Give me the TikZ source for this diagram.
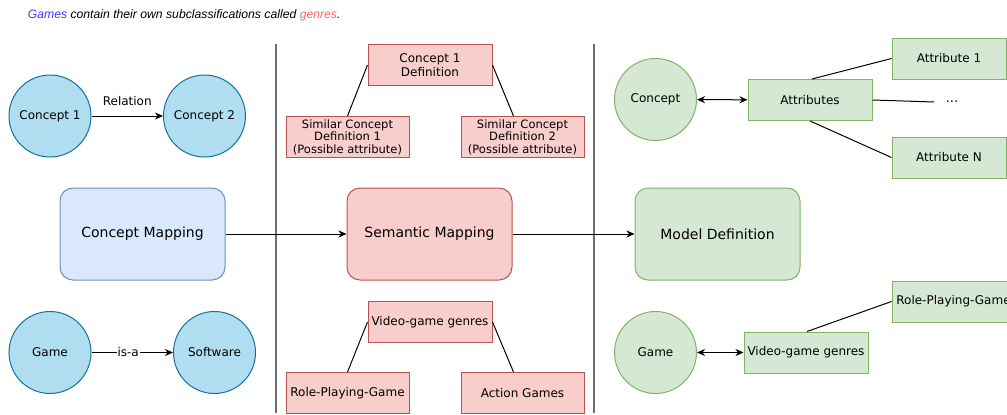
\documentclass[tikz,border=0pt]{standalone}
\usepackage{fontspec}
\setmainfont{DejaVu Sans}
\newfontfamily\notefont{Liberation Sans}
\usetikzlibrary{arrows.meta, positioning}
\definecolor{cblue}{HTML}{B1DDF0}
\definecolor{cbluedraw}{HTML}{10739E}
\definecolor{mblue}{HTML}{DAE8FC}
\definecolor{mbluedraw}{HTML}{6C8EBF}
\definecolor{mred}{HTML}{F8CECC}
\definecolor{mreddraw}{HTML}{B85450}
\definecolor{mgreen}{HTML}{D5E8D4}
\definecolor{mgreendraw}{HTML}{82B366}
\definecolor{sepgray}{HTML}{6F6F6F}
\definecolor{notblue}{HTML}{3B3BFF}
\definecolor{notred}{HTML}{FF6666}
\tikzset{
  >={Stealth[length=8pt,width=7pt,inset=2.5pt]},
  % Nodi
  concept/.style={circle,draw=cbluedraw,fill=cblue,minimum size=82,inner sep=0,
    font=\fontsize{12}{14}\selectfont},
  concept green/.style={concept,draw=mgreendraw,fill=mgreen},
  map/.style={rectangle,rounded corners=13,minimum width=165,minimum height=92,
    font=\fontsize{14}{17}\selectfont},
  map blue/.style={map,draw=mbluedraw,fill=mblue},
  map red/.style={map,draw=mreddraw,fill=mred},
  map green/.style={map,draw=mgreendraw,fill=mgreen},
  item/.style={rectangle,minimum width=124,minimum height=41,inner sep=0,align=center,
    font=\fontsize{12}{13.5}\selectfont},
  item red/.style={item,draw=mreddraw,fill=mred},
  item green/.style={item,draw=mgreendraw,fill=mgreen},
  % Connessioni
  connect/.style={line width=1pt,black},
  connect arrow/.style={->,line width=1pt,black},
  connect both/.style={<->,line width=1pt,black},
  separator/.style={line width=2pt,sepgray}
}

\begin{document}
\begin{tikzpicture}[x=1pt,y=-1pt,line width=1pt]
  \clip (0,0) rectangle (1007,415);

  \node[anchor=west,font=\notefont\itshape\fontsize{12.2}{14}\selectfont] (note) at (24,15)
    {\textcolor{notblue}{Games} contain their own subclassifications called \textcolor{notred}{genres}.};

  % separatori
  \coordinate (s1top) at (275.5,44);
  \coordinate (s1bot) at (275.5,413);
  \coordinate (s2top) at (594,44);
  \coordinate (s2bot) at (594,413);
  \draw[separator] (s1top) -- (s1bot);
  \draw[separator] (s2top) -- (s2bot);

  % colonna sinistra
  \node[concept] (c1) at (50,116) {Concept 1};
  \node[concept] (c2) at (204.5,116) {Concept 2};
  \draw[connect arrow] (c1) -- (c2) node[midway,above=6pt,font=\fontsize{12}{14}\selectfont]{Relation};
  \node[concept] (game) at (50,352.5) {Game};
  \node[concept] (soft) at (214.5,352.5) {Software};
  \draw[connect arrow] (game) -- (soft) node[pos=0.45,fill=white,inner sep=1pt,font=\fontsize{12}{14}\selectfont]{is-a};

  % mappature
  \node[map blue] (cmap) at (142.5,234) {Concept Mapping};
  \node[map red] (smap) at (429.5,234) {Semantic Mapping};
  \node[map green] (mdef) at (717.5,234) {Model Definition};
  \draw[connect arrow] (cmap) -- (smap);
  \draw[connect arrow] (smap) -- (mdef);

  % colonna centrale
  \node[item red] (def1) at (430,65) {Concept 1\\Definition};
  \node[item red,minimum width=123,font=\fontsize{11.5}{12.5}\selectfont] (sim1) at (347.5,137)
    {Similar Concept\\Definition 1\\(Possible attribute)};
  \node[item red,minimum width=123,font=\fontsize{11.5}{12.5}\selectfont] (sim2) at (522.5,137)
    {Similar Concept\\Definition 2\\(Possible attribute)};
  \draw[connect] (def1.west) -- (sim1.north);
  \draw[connect] (def1.east) -- ([xshift=-9]sim2.north);
  \node[item red] (vgg) at (430,322) {Video-game genres};
  \node[item red,minimum width=123] (rpg) at (347.5,393) {Role-Playing-Game};
  \node[item red,minimum width=123] (act) at (522.5,393) {Action Games};
  \draw[connect] (vgg.west) -- (rpg.north);
  \draw[connect] (vgg.east) -- ([xshift=-9]act.north);

  % colonna destra
  \node[concept green] (cpt) at (655.5,99.5) {Concept};
  \node[item green] (attr) at (810,100) {Attributes};
  \node[item green,minimum width=114] (a1) at (949,58.5) {Attribute 1};
  \node[item green,minimum width=114] (an) at (949,157.5) {Attribute N};
  \node[font=\fontsize{13}{14}\selectfont] (dots) at (952,102) {...};
  \coordinate (dotsend) at (934,102);
  \draw[connect both] (cpt) -- (attr);
  \draw[connect] ([xshift=2]attr.north) -- (a1.west);
  \draw[connect] (attr.east) -- (dotsend);
  \draw[connect] (attr.south) -- (an.west);

  \node[concept green] (game2) at (655.5,352.5) {Game};
  \node[item green] (vg2) at (806,352.5) {Video-game genres};
  \node[item green,minimum width=123] (rpg2) at (953.5,301.5) {Role-Playing-Game};
  \draw[connect both] (game2) -- (vg2);
  \draw[connect] ([xshift=1]vg2.north) -- (rpg2.west);
\end{tikzpicture}
\end{document}
